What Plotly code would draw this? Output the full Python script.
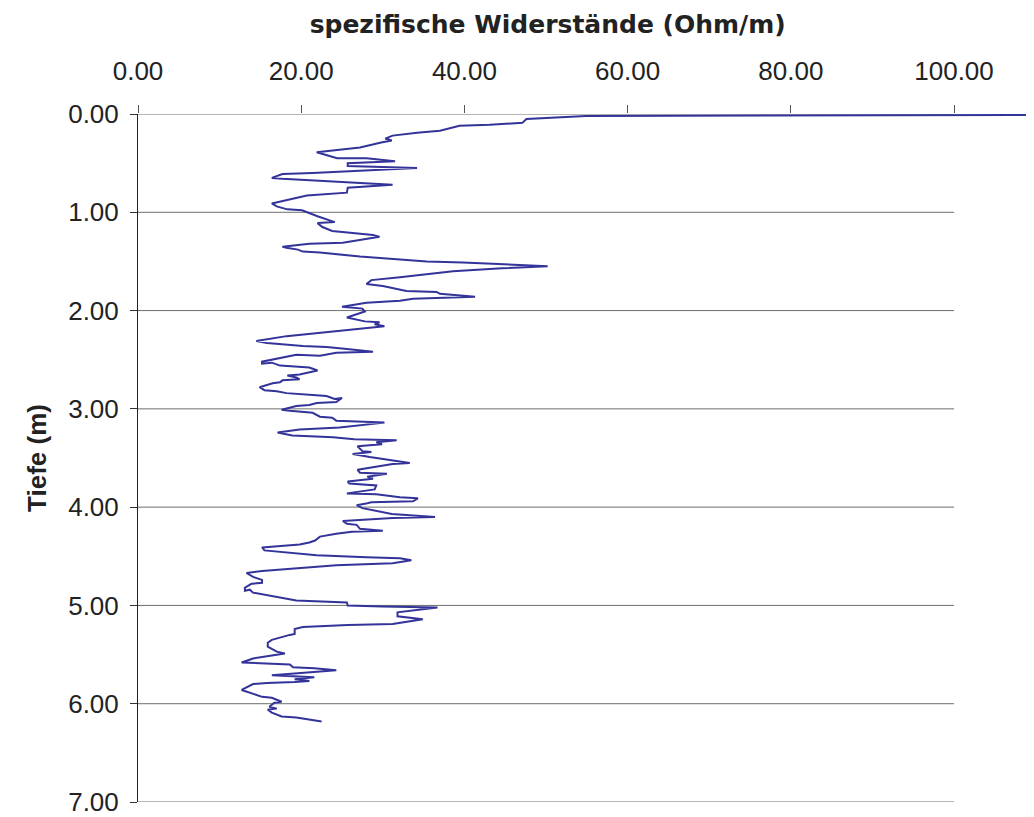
import plotly.graph_objects as go

depth = [
    0.01, 0.02, 0.05, 0.09, 0.11, 0.12, 0.17, 0.18, 0.19, 0.22, 0.25, 0.27, 0.29,
    0.34, 0.39, 0.45, 0.45, 0.48, 0.50, 0.53, 0.55, 0.60, 0.61, 0.65, 0.66, 0.72,
    0.74, 0.75, 0.80, 0.83, 0.91, 0.94, 0.97, 0.98, 1.04, 1.10, 1.11, 1.15, 1.19,
    1.23, 1.25, 1.31, 1.32, 1.35, 1.36, 1.38, 1.40, 1.41, 1.45, 1.48, 1.50, 1.51,
    1.54, 1.55, 1.57, 1.60, 1.66, 1.69, 1.73, 1.75, 1.80, 1.81, 1.83, 1.86, 1.88,
    1.90, 1.92, 1.96, 1.98, 2.01, 2.07, 2.11, 2.12, 2.14, 2.16, 2.23, 2.26, 2.31,
    2.33, 2.36, 2.37, 2.39, 2.42, 2.43, 2.46, 2.45, 2.50, 2.52, 2.54, 2.53, 2.56,
    2.58, 2.61, 2.63, 2.65, 2.66, 2.68, 2.70, 2.71, 2.73, 2.74, 2.78, 2.81, 2.82,
    2.84, 2.86, 2.87, 2.90, 2.89, 2.93, 2.94, 2.96, 2.97, 3.01, 3.02, 3.04, 3.08,
    3.09, 3.12, 3.14, 3.19, 3.21, 3.24, 3.27, 3.28, 3.29, 3.31, 3.32, 3.34, 3.36,
    3.38, 3.43, 3.44, 3.46, 3.49, 3.53, 3.55, 3.56, 3.59, 3.62, 3.65, 3.66, 3.69,
    3.71, 3.74, 3.76, 3.78, 3.82, 3.86, 3.87, 3.90, 3.91, 3.94, 3.95, 3.96, 3.98,
    4.01, 4.07, 4.10, 4.11, 4.14, 4.17, 4.18, 4.22, 4.24, 4.25, 4.27, 4.30, 4.34,
    4.36, 4.38, 4.40, 4.41, 4.44, 4.46, 4.49, 4.51, 4.52, 4.54, 4.57, 4.59, 4.63,
    4.65, 4.67, 4.71, 4.74, 4.77, 4.78, 4.82, 4.85, 4.84, 4.87, 4.92, 4.95, 4.97,
    5.00, 5.01, 5.02, 5.07, 5.11, 5.14, 5.19, 5.20, 5.21, 5.22, 5.24, 5.29, 5.30,
    5.35, 5.38, 5.42, 5.47, 5.49, 5.51, 5.54, 5.58, 5.60, 5.63, 5.64, 5.66, 5.69,
    5.71, 5.73, 5.75, 5.77, 5.78, 5.79, 5.80, 5.86, 5.89, 5.93, 5.94, 5.98, 5.99,
    6.03, 6.05, 6.06, 6.09, 6.13, 6.14, 6.18,
]
resistivity = [
    112.0, 54.9, 47.6, 47.1, 43.1, 39.4, 37.0, 35.1, 34.2, 31.2, 30.3, 31.1, 29.8,
    27.2, 21.9, 24.4, 28.0, 31.5, 25.7, 25.7, 34.2, 21.4, 17.7, 16.4, 17.7, 31.2,
    27.5, 25.7, 25.6, 20.7, 16.4, 17.0, 18.3, 20.1, 22.0, 24.1, 22.0, 22.6, 23.8,
    28.8, 29.6, 25.1, 21.0, 17.7, 18.2, 19.6, 20.2, 22.3, 27.2, 32.1, 35.4, 39.8,
    46.8, 50.2, 44.6, 38.6, 32.1, 28.6, 28.0, 30.0, 32.9, 36.6, 37.0, 41.3, 33.7,
    32.1, 28.0, 25.0, 27.5, 27.8, 25.6, 27.8, 29.6, 29.0, 30.2, 22.3, 18.2, 14.5,
    15.8, 20.2, 23.1, 25.6, 28.8, 24.3, 22.3, 19.4, 16.2, 15.2, 15.2, 16.4, 17.4,
    21.0, 22.0, 20.7, 19.8, 18.3, 19.4, 19.8, 17.7, 17.4, 16.5, 14.9, 15.5, 17.0,
    18.2, 21.4, 23.1, 24.1, 25.0, 24.3, 21.9, 21.0, 19.4, 17.6, 18.6, 21.4, 22.3,
    23.8, 24.3, 30.2, 24.7, 19.8, 17.1, 18.9, 21.4, 23.9, 26.5, 31.7, 29.2, 29.9,
    26.9, 27.5, 28.6, 26.3, 28.4, 32.1, 33.3, 31.2, 28.8, 26.9, 27.2, 30.5, 28.1,
    28.8, 25.7, 25.9, 29.2, 29.0, 25.6, 29.2, 32.1, 34.3, 33.7, 28.6, 28.1, 26.8,
    27.5, 31.1, 36.4, 31.2, 25.1, 25.6, 26.8, 27.2, 30.0, 26.2, 24.3, 22.3, 21.7,
    21.0, 19.8, 17.1, 15.2, 15.5, 18.2, 21.9, 28.0, 32.1, 33.5, 31.2, 24.3, 17.4,
    15.2, 13.3, 14.1, 15.2, 15.2, 13.9, 13.1, 13.1, 13.7, 14.1, 17.4, 19.4, 25.6,
    25.7, 29.9, 36.7, 31.8, 31.8, 34.9, 31.2, 25.7, 22.3, 20.2, 19.2, 19.2, 18.6,
    16.4, 15.9, 15.9, 17.0, 18.0, 16.4, 14.1, 12.7, 18.6, 19.0, 21.6, 24.3, 19.8,
    16.4, 21.6, 19.2, 21.0, 19.2, 15.8, 14.1, 12.7, 13.7, 15.2, 16.4, 17.6, 16.7,
    16.1, 17.0, 15.9, 16.4, 17.6, 19.4, 22.5,
]

x_ticks = [0, 20, 40, 60, 80, 100]
depth_ticks = [0, 1, 2, 3, 4, 5, 6, 7]

tick_font = dict(family="Liberation Sans, Arial, sans-serif", size=26, color="#222222")

fig = go.Figure()
fig.add_trace(go.Scatter(
    x=resistivity, y=depth, mode="lines",
    line=dict(color="#333399", width=2),
    showlegend=False, hoverinfo="x+y",
))

# horizontal grid lines only across the 0-100 part of the axis
for d in depth_ticks:
    fig.add_shape(type="line", xref="x", yref="y", x0=0, x1=x_ticks[-1], y0=d, y1=d,
                  line=dict(color="#6e6e6e", width=1), layer="below")

# page body adds an 8px margin, so the figure is 8px smaller on each axis
fig.update_layout(
    width=1026, height=809,
    margin=dict(l=130, r=0, t=106, b=15),
    paper_bgcolor="white", plot_bgcolor="white",
    title=dict(
        text="<b>spezifische Widerstände (Ohm/m)</b>",
        font=dict(family="DejaVu Sans, sans-serif", size=25, color="#222222"),
        x=0.526, xanchor="center", y=1 - 16 / 809, yanchor="middle",
    ),
    xaxis=dict(
        side="top", range=[0, 109.8],
        tickvals=x_ticks, tickformat=".2f",
        ticks="outside", ticklen=8, tickcolor="#555555", tickwidth=1,
        ticklabelstandoff=15, tickfont=tick_font,
        showgrid=False, zeroline=False, showline=False,
    ),
    yaxis=dict(
        range=[7, 0],
        tickvals=depth_ticks, tickformat=".2f",
        ticks="outside", ticklen=7, tickcolor="#333333", tickwidth=1,
        ticklabelstandoff=6, tickfont=tick_font, ticklabeloverflow="allow",
        showgrid=False, zeroline=False,
        showline=True, linecolor="#222222", linewidth=1,
        title=dict(text="<b>Tiefe (m)</b>", standoff=14,
                   font=dict(family="Liberation Sans, Arial, sans-serif", size=26, color="#222222")),
    ),
)

fig.write_html("out.html")
